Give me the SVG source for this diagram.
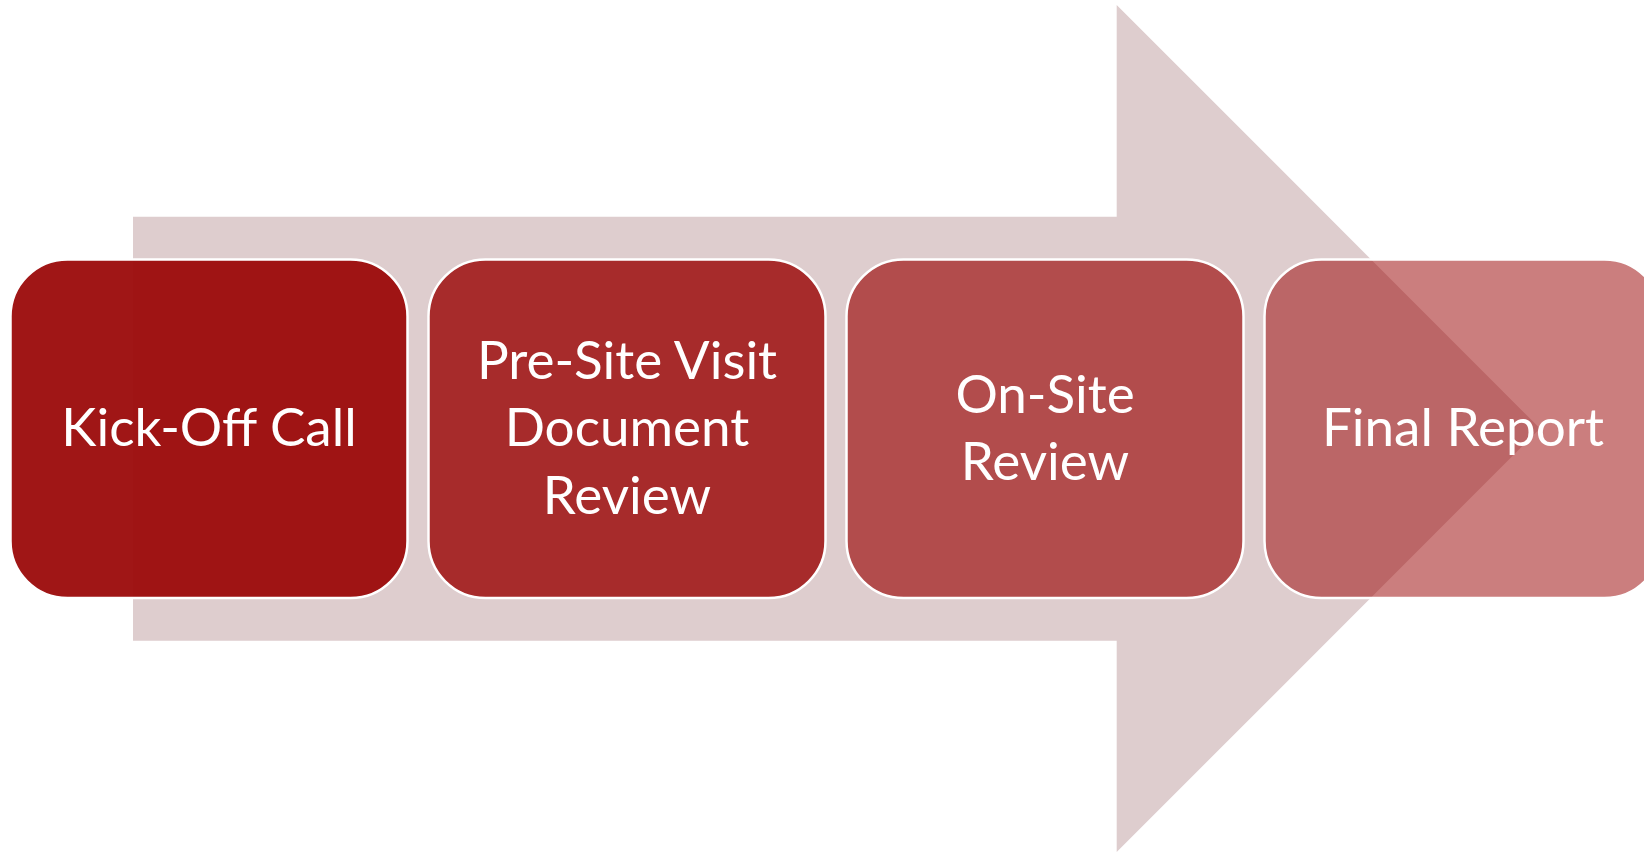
<svg xmlns="http://www.w3.org/2000/svg" width="1644" height="852" viewBox="0 0 1644 852">
  <style>
    .box { fill: #9C0C0C; stroke: #FFFFFF; stroke-width: 2.5; }
    .lbl { font-family: Lato, "Liberation Sans", sans-serif; font-size: 53px; fill: #FFFFFF; text-anchor: middle; }
  </style>
  <rect width="1644" height="852" fill="#FFFFFF"/>
  <g id="connectors">
    <polygon id="arrow" points="133,216.7 1116.7,216.7 1116.7,5 1540,428.5 1116.7,852 1116.7,640.7 133,640.7" fill="#DECDCE"/>
  </g>
  <g id="node1">
    <rect class="box" x="10.5" y="259.5" width="397" height="338.5" rx="57" ry="57" fill-opacity="0.96"/>
    <text class="lbl" x="209" y="446">Kick-Off Call</text>
  </g>
  <g id="node2">
    <rect class="box" x="428.5" y="259.5" width="397" height="338.5" rx="57" ry="57" fill-opacity="0.84"/>
    <text class="lbl" x="627" y="378.5">Pre-Site Visit</text>
    <text class="lbl" x="627" y="446">Document</text>
    <text class="lbl" x="627" y="513.5">Review</text>
  </g>
  <g id="node3">
    <rect class="box" x="846.5" y="259.5" width="397" height="338.5" rx="57" ry="57" fill-opacity="0.67"/>
    <text class="lbl" x="1045" y="412.5">On-Site</text>
    <text class="lbl" x="1045" y="479.5">Review</text>
  </g>
  <g id="node4">
    <rect class="box" x="1264.5" y="259.5" width="397" height="338.5" rx="57" ry="57" fill-opacity="0.53"/>
    <text class="lbl" x="1463" y="446">Final Report</text>
  </g>
</svg>
